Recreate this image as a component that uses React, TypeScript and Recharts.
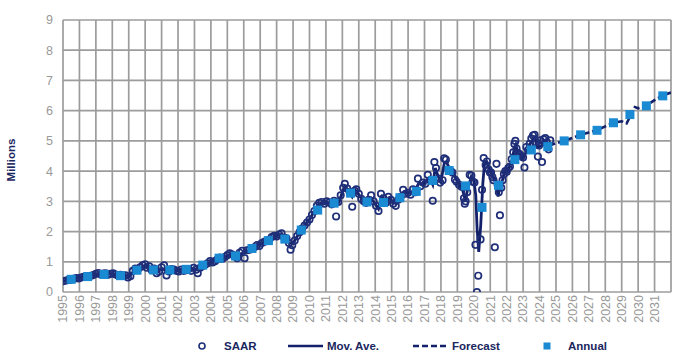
import React from 'react';
import { ComposedChart, Line, Scatter, XAxis, YAxis, CartesianGrid } from 'recharts';

const xTicks = [1995, 1996, 1997, 1998, 1999, 2000, 2001, 2002, 2003, 2004, 2005, 2006, 2007, 2008, 2009, 2010, 2011, 2012, 2013, 2014, 2015, 2016, 2017, 2018, 2019, 2020, 2021, 2022, 2023, 2024, 2025, 2026, 2027, 2028, 2029, 2030, 2031, 2032];
const xLabels = ['1995', '1996', '1997', '1998', '1999', '2000', '2001', '2002', '2003', '2004', '2005', '2006', '2007', '2008', '2009', '2010', '2011', '2012', '2013', '2014', '2015', '2016', '2017', '2018', '2019', '2020', '2021', '2022', '2023', '2024', '2025', '2026', '2027', '2028', '2029', '2030', '2031', ''];
const yTicks = [0, 1, 2, 3, 4, 5, 6, 7, 8, 9];

// SAAR (time, millions)
const saar1995_2004: [number, number][] = [
  [1995.04, 0.36], [1995.2, 0.38], [1995.35, 0.40], [1995.5, 0.41], [1995.65, 0.44], [1995.8, 0.46], [1995.95, 0.45],
  [1996.1, 0.48], [1996.25, 0.50], [1996.4, 0.52], [1996.55, 0.51], [1996.7, 0.54], [1996.85, 0.56],
  [1997.0, 0.60], [1997.15, 0.63], [1997.3, 0.58], [1997.45, 0.61], [1997.6, 0.62], [1997.75, 0.57], [1997.9, 0.60],
  [1998.05, 0.62], [1998.2, 0.58], [1998.35, 0.55], [1998.5, 0.57], [1998.65, 0.53], [1998.8, 0.55], [1998.95, 0.48],
  [1999.1, 0.52], [1999.25, 0.70], [1999.4, 0.78], [1999.55, 0.74], [1999.7, 0.82], [1999.85, 0.88],
  [2000.0, 0.92], [2000.1, 0.80], [2000.25, 0.85], [2000.4, 0.72], [2000.55, 0.78], [2000.7, 0.62], [2000.85, 0.68],
  [2001.0, 0.82], [2001.15, 0.88], [2001.3, 0.55], [2001.45, 0.68], [2001.6, 0.76], [2001.75, 0.74], [2001.9, 0.70],
  [2002.05, 0.68], [2002.2, 0.74], [2002.35, 0.70], [2002.5, 0.72], [2002.65, 0.76], [2002.8, 0.70], [2002.95, 0.80],
  [2003.1, 0.74], [2003.2, 0.62], [2003.35, 0.80], [2003.5, 0.86], [2003.65, 0.90], [2003.8, 0.95], [2003.95, 1.02],
  [2004.1, 0.98], [2004.25, 1.02], [2004.4, 1.08], [2004.55, 1.14], [2004.7, 1.10], [2004.85, 1.16],
];
const saar2005_2014: [number, number][] = [
  [2005.0, 1.22], [2005.15, 1.28], [2005.3, 1.24], [2005.45, 1.18], [2005.6, 1.12], [2005.75, 1.30], [2005.9, 1.36],
  [2006.05, 1.12], [2006.2, 1.38], [2006.35, 1.40], [2006.5, 1.45], [2006.65, 1.48], [2006.8, 1.55], [2006.95, 1.52],
  [2007.1, 1.62], [2007.25, 1.66], [2007.4, 1.70], [2007.55, 1.72], [2007.7, 1.82], [2007.85, 1.86],
  [2008.0, 1.84], [2008.15, 1.90], [2008.3, 1.94], [2008.45, 1.80], [2008.6, 1.78], [2008.75, 1.62], [2008.85, 1.40], [2008.95, 1.55],
  [2009.1, 1.70], [2009.25, 1.85], [2009.4, 1.98], [2009.55, 2.10], [2009.7, 2.20], [2009.85, 2.30],
  [2010.0, 2.40], [2010.15, 2.55], [2010.3, 2.68], [2010.45, 2.85], [2010.6, 2.95], [2010.75, 2.98], [2010.9, 2.92],
  [2011.05, 3.00], [2011.2, 2.96], [2011.35, 2.90], [2011.5, 3.02], [2011.62, 2.50], [2011.75, 2.98], [2011.9, 3.20],
  [2012.05, 3.45], [2012.15, 3.58], [2012.3, 3.42], [2012.45, 3.30], [2012.6, 2.82], [2012.75, 3.35], [2012.85, 3.40],
  [2013.0, 3.25], [2013.15, 3.08], [2013.3, 3.00], [2013.45, 2.95], [2013.6, 3.05], [2013.75, 3.20], [2013.9, 3.00],
  [2014.05, 2.85], [2014.2, 2.68], [2014.35, 3.25], [2014.5, 3.10], [2014.65, 2.95], [2014.8, 3.15], [2014.95, 3.05],
];
const saar2015_2019: [number, number][] = [
  [2015.1, 2.92], [2015.25, 2.85], [2015.4, 3.05], [2015.55, 3.15], [2015.7, 3.38], [2015.85, 3.25],
  [2016.0, 3.28], [2016.15, 3.22], [2016.3, 3.40], [2016.45, 3.30], [2016.6, 3.75], [2016.75, 3.50], [2016.9, 3.62],
  [2017.05, 3.58], [2017.2, 3.88], [2017.35, 3.70], [2017.5, 3.02], [2017.6, 4.30], [2017.7, 4.10], [2017.85, 3.75], [2017.95, 3.62],
  [2018.1, 3.70], [2018.2, 4.42], [2018.3, 4.38], [2018.45, 4.05], [2018.6, 4.00], [2018.7, 3.95], [2018.85, 3.72], [2018.95, 3.65],
  [2019.1, 3.55], [2019.25, 3.48], [2019.4, 3.10], [2019.45, 2.92], [2019.5, 3.00], [2019.6, 3.30], [2019.75, 3.88], [2019.85, 3.85], [2019.95, 3.65],
];
const saar2020_2024: [number, number][] = [
  [2020.04, 3.62], [2020.1, 1.56], [2020.19, 0.0], [2020.27, 0.54], [2020.41, 1.74], [2020.5, 3.38], [2020.6, 4.43],
  [2020.72, 4.20], [2020.8, 4.32], [2020.9, 4.05], [2020.98, 3.95],
  [2021.05, 3.95], [2021.13, 3.80], [2021.2, 3.70], [2021.28, 1.48], [2021.38, 4.24], [2021.45, 3.55], [2021.52, 3.30],
  [2021.59, 2.54], [2021.67, 3.45], [2021.75, 3.70], [2021.83, 3.90], [2021.92, 4.00],
  [2022.0, 3.98], [2022.1, 4.10], [2022.2, 4.15], [2022.3, 4.40], [2022.4, 4.62], [2022.47, 4.90], [2022.53, 5.00],
  [2022.6, 4.75], [2022.7, 4.60], [2022.8, 4.55], [2022.9, 4.50],
  [2023.0, 4.45], [2023.08, 4.12], [2023.2, 4.80], [2023.3, 4.70], [2023.4, 4.90], [2023.5, 5.08], [2023.6, 5.18],
  [2023.7, 5.20], [2023.8, 4.95], [2023.9, 4.48], [2023.97, 4.85],
  [2024.05, 5.02], [2024.15, 4.30], [2024.25, 5.05], [2024.35, 5.09], [2024.45, 4.95], [2024.55, 4.72], [2024.65, 5.02],
];

// Moving average
const movAve: [number, number][] = [
  [1995.0, 0.37], [1995.25, 0.39], [1995.5, 0.42], [1995.75, 0.45], [1996.0, 0.47], [1996.25, 0.5], [1996.5, 0.52], [1996.75, 0.55],
  [1997.0, 0.59], [1997.25, 0.61], [1997.5, 0.61], [1997.75, 0.6], [1998.0, 0.61], [1998.25, 0.57], [1998.5, 0.56], [1998.75, 0.54],
  [1999.0, 0.5], [1999.25, 0.66], [1999.5, 0.76], [1999.75, 0.83], [2000.0, 0.88], [2000.25, 0.82], [2000.5, 0.74], [2000.75, 0.66],
  [2001.0, 0.78], [2001.25, 0.7], [2001.5, 0.72], [2001.75, 0.74], [2002.0, 0.7], [2002.25, 0.72], [2002.5, 0.72], [2002.75, 0.74],
  [2003.0, 0.76], [2003.25, 0.72], [2003.5, 0.84], [2003.75, 0.93], [2004.0, 0.99], [2004.25, 1.03], [2004.5, 1.1], [2004.75, 1.13],
  [2005.0, 1.2], [2005.25, 1.25], [2005.5, 1.18], [2005.75, 1.25], [2006.0, 1.3], [2006.25, 1.36], [2006.5, 1.44], [2006.75, 1.51],
  [2007.0, 1.58], [2007.25, 1.66], [2007.5, 1.72], [2007.75, 1.82], [2008.0, 1.86], [2008.25, 1.9], [2008.5, 1.8], [2008.75, 1.62],
  [2009.0, 1.6], [2009.25, 1.84], [2009.5, 2.06], [2009.75, 2.24], [2010.0, 2.4], [2010.25, 2.62], [2010.5, 2.86], [2010.75, 2.96],
  [2011.0, 2.97], [2011.25, 2.94], [2011.5, 2.9], [2011.75, 2.92], [2012.0, 3.3], [2012.15, 3.5], [2012.35, 3.38], [2012.6, 3.15],
  [2012.8, 3.36], [2013.0, 3.22], [2013.25, 3.04], [2013.5, 2.98], [2013.75, 3.1], [2014.0, 2.92], [2014.2, 2.75], [2014.4, 3.15],
  [2014.65, 3.0], [2014.9, 3.1], [2015.1, 2.95], [2015.3, 2.92], [2015.55, 3.12], [2015.75, 3.3], [2016.0, 3.27], [2016.2, 3.28],
  [2016.45, 3.35], [2016.65, 3.6], [2016.9, 3.56], [2017.1, 3.68], [2017.3, 3.78], [2017.5, 3.55], [2017.65, 4.1], [2017.85, 3.8],
  [2018.0, 3.66], [2018.2, 4.25], [2018.35, 4.3], [2018.55, 4.02], [2018.75, 3.95], [2018.95, 3.7], [2019.15, 3.52], [2019.3, 3.4],
  [2019.48, 3.05], [2019.65, 3.45], [2019.85, 3.82], [2020.0, 3.7], [2020.12, 3.2], [2020.2, 2.1], [2020.3, 1.33], [2020.42, 2.2],
  [2020.55, 3.6], [2020.65, 4.25], [2020.8, 4.3], [2020.95, 4.05], [2021.1, 3.9], [2021.25, 3.7], [2021.38, 3.55], [2021.48, 3.16],
  [2021.58, 3.5], [2021.7, 3.6], [2021.85, 3.95], [2022.0, 4.0], [2022.15, 4.12], [2022.3, 4.3], [2022.45, 4.7], [2022.55, 4.85],
  [2022.7, 4.6], [2022.85, 4.5], [2023.0, 4.4], [2023.15, 4.6], [2023.3, 4.75], [2023.5, 4.98], [2023.7, 5.12], [2023.85, 4.8],
  [2024.0, 4.82], [2024.2, 4.85], [2024.35, 5.0], [2024.5, 4.9], [2024.6, 4.85],
];

// Forecast
const forecast: [number, number][] = [
  [2024.6, 4.85], [2025.0, 4.92], [2025.5, 5.0], [2026.0, 5.1], [2026.5, 5.2], [2027.0, 5.28], [2027.5, 5.36],
  [2028.0, 5.48], [2028.5, 5.6], [2029.0, 5.65], [2029.3, 5.58], [2029.6, 5.9], [2029.8, 6.12], [2030.0, 6.08],
  [2030.5, 6.17], [2031.0, 6.35], [2031.5, 6.5], [2032.0, 6.6],
];

// Annual
const annualYears = [1995, 1996, 1997, 1998, 1999, 2000, 2001, 2002, 2003, 2004, 2005, 2006, 2007, 2008, 2009, 2010, 2011, 2012, 2013, 2014, 2015, 2016, 2017, 2018, 2019, 2020, 2021, 2022, 2023, 2024, 2025, 2026, 2027, 2028, 2029, 2030, 2031];
const annualValues = [0.42, 0.51, 0.58, 0.54, 0.72, 0.73, 0.73, 0.75, 0.89, 1.12, 1.19, 1.44, 1.70, 1.75, 2.05, 2.71, 2.94, 3.27, 2.98, 2.96, 3.12, 3.33, 3.69, 4.02, 3.51, 2.80, 3.53, 4.38, 4.70, 4.81, 5.00, 5.20, 5.35, 5.60, 5.87, 6.16, 6.49];

const NAVY = '#13206a';
const CIRCLE = '#1f2e78';
const BLUE = '#1a8ad2';
const GRID = '#9c9c9c';
const TICK = '#999999';
const FONT = '"Liberation Sans", Arial, sans-serif';

const toPts = (arr: [number, number][]) => arr.map(([x, y]) => ({ x, y }));
const saarData = toPts([...saar1995_2004, ...saar2005_2014, ...saar2015_2019, ...saar2020_2024]);
const movData = toPts(movAve);
const fcData = toPts(forecast);
const annualData = annualYears.map((yr, i) => ({ x: yr + 0.5, y: annualValues[i] }));

const OpenCircle = (p: any) => (
  <circle cx={p.cx} cy={p.cy} r={3.2} fill="none" stroke={CIRCLE} strokeWidth={1.7} />
);
const Square = (p: any) => (
  <rect x={p.cx - 4.5} y={p.cy - 4.5} width={9} height={9} fill={BLUE} />
);

const XTick = (p: any) => {
  const idx = xTicks.indexOf(p.payload.value);
  const label = idx >= 0 ? xLabels[idx] : '';
  return (
    <text
      transform={`translate(${p.x},${p.y - 5}) rotate(-90)`}
      textAnchor="end"
      dy="0.35em"
      fontSize={12.5}
      fill={TICK}
      fontFamily={FONT}
    >
      {label}
    </text>
  );
};

const legendText: React.CSSProperties = {
  position: 'absolute',
  top: 339,
  fontFamily: FONT,
  fontWeight: 700,
  fontSize: 11.5,
  color: '#1a2660',
  lineHeight: '14px',
  whiteSpace: 'nowrap',
};

export default function App() {
  return (
    <div style={{ position: 'absolute', left: 0, top: 0, width: 684, height: 358, background: '#fff' }}>
      <ComposedChart
        width={684}
        height={358}
        margin={{ top: 20, right: 13, bottom: 0, left: 0 }}
      >
        <CartesianGrid stroke={GRID} strokeWidth={1.7} />
        <XAxis
          dataKey="x"
          type="number"
          domain={[1995, 2032]}
          ticks={xTicks}
          interval={0}
          allowDataOverflow
          height={66}
          axisLine={false}
          tickLine={false}
          tick={<XTick />}
        />
        <YAxis
          type="number"
          domain={[0, 9]}
          ticks={yTicks}
          interval={0}
          allowDataOverflow
          width={63}
          axisLine={false}
          tickLine={false}
          tickMargin={4}
          tick={{ fontSize: 12.5, fill: TICK, fontFamily: FONT }}
        />
        <Scatter data={saarData} dataKey="y" shape={OpenCircle} isAnimationActive={false} />
        <Line data={movData} dataKey="y" type="linear" stroke={NAVY} strokeWidth={2.8} dot={false} isAnimationActive={false} />
        <Line data={fcData} dataKey="y" type="linear" stroke={NAVY} strokeWidth={2.6} strokeDasharray="6 3" dot={false} isAnimationActive={false} />
        <Scatter data={annualData} dataKey="y" shape={Square} isAnimationActive={false} />
      </ComposedChart>

      <div
        style={{
          position: 'absolute',
          left: 10.5,
          top: 160,
          transform: 'translate(-50%, -50%) rotate(-90deg)',
          fontFamily: FONT,
          fontWeight: 700,
          fontSize: 11.5,
          color: '#1a2660',
          whiteSpace: 'nowrap',
        }}
      >
        Millions
      </div>

      <svg style={{ position: 'absolute', left: 0, top: 336 }} width={684} height={20}>
        <circle cx={202} cy={10} r={3} fill="#fff" stroke={CIRCLE} strokeWidth={1.6} />
        <line x1={288} y1={10} x2={323} y2={10} stroke={NAVY} strokeWidth={2.5} />
        <line x1={413} y1={10} x2={448} y2={10} stroke={NAVY} strokeWidth={2.5} strokeDasharray="6 3" />
        <rect x={543.5} y={6.5} width={7} height={7} fill={BLUE} />
      </svg>
      <div style={{ ...legendText, left: 224 }}>SAAR</div>
      <div style={{ ...legendText, left: 327 }}>Mov. Ave.</div>
      <div style={{ ...legendText, left: 452 }}>Forecast</div>
      <div style={{ ...legendText, left: 568 }}>Annual</div>
    </div>
  );
}
